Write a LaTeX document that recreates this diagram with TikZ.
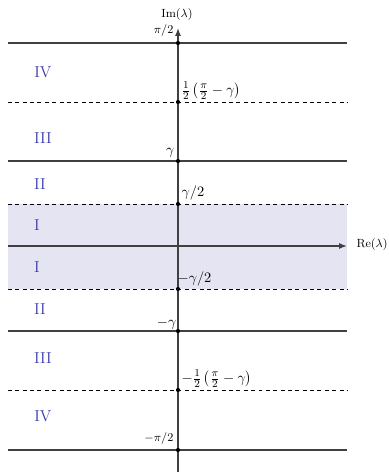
\documentclass[tikz,border=0pt]{standalone}
\usetikzlibrary{arrows.meta}
\definecolor{linegray}{RGB}{64,64,64}
\definecolor{bandcol}{RGB}{228,228,242}
\definecolor{romancol}{RGB}{60,60,170}
\begin{document}
\begin{tikzpicture}[x=0.76pt,y=-0.76pt,
  solidline/.style={draw=linegray,line width=0.8pt},
  dashline/.style={draw=black,line width=0.7pt,dash pattern=on 3pt off 2.6pt},
  axisline/.style={draw=linegray,line width=0.9pt,-{Latex[length=6pt,width=4.5pt]}},
  roman/.style={text=romancol,font=\large},
  dot/.style={circle,fill=black,inner sep=0pt,minimum size=3.2pt},
  lab/.style={font=\fontsize{11}{13}\selectfont,inner sep=1pt},
  slab/.style={font=\small,inner sep=1pt}]
\useasboundingbox (0,0) rectangle (389,476);
% shaded band
\fill[bandcol] (8,204) rectangle (347,289);
% horizontal lines
\foreach \yy in {43,161,331,450}{\draw[solidline] (8,\yy) -- (347,\yy);}
\foreach \yy in {102,204,289,390}{\draw[dashline] (8,\yy) -- (347,\yy);}
% axes
\coordinate (xs) at (8,246);
\coordinate (xe) at (347,246);
\coordinate (ys) at (178,472);
\coordinate (ye) at (178,28);
\draw[axisline] (xs) -- (xe);
\draw[axisline] (ys) -- (ye);
% dots
\foreach \yy/\nm in {43/d1,102/d2,161/d3,204/d4,289/d5,331/d6,390/d7,450/d8}{\node[dot] (\nm) at (178,\yy) {};}
% axis labels
\node[slab] (im) at (177,15) {$\mathrm{Im}(\lambda)$};
\node[slab,anchor=west] (re) at (355,245) {$\mathrm{Re}(\lambda)$};
% tick labels
\node[slab,anchor=south east] (l1) at (175,38) {$\pi/2$};
\node[lab,anchor=south west] (l2) at (180,101) {$\frac12\left(\frac{\pi}{2}-\gamma\right)$};
\node[lab,anchor=south east] (l3) at (176,159) {$\gamma$};
\node[lab,anchor=south west] (l4) at (180,202) {$\gamma/2$};
\node[lab,anchor=south west] (l5) at (176,288) {$-\gamma/2$};
\node[lab,anchor=south east] (l6) at (178,331) {$-\gamma$};
\node[lab,anchor=south west] (l7) at (180,389) {$-\frac12\left(\frac{\pi}{2}-\gamma\right)$};
\node[slab,anchor=south east] (l8) at (175,446) {$-\pi/2$};
% roman numerals
\node[roman] (r1) at (43,72) {IV};
\node[roman] (r2) at (43,138) {III};
\node[roman] (r3) at (40,184) {II};
\node[roman] (r4) at (37,225) {I};
\node[roman] (r5) at (37,267) {I};
\node[roman] (r6) at (40,309) {II};
\node[roman] (r7) at (43,358) {III};
\node[roman] (r8) at (43,416) {IV};
\end{tikzpicture}
\end{document}
